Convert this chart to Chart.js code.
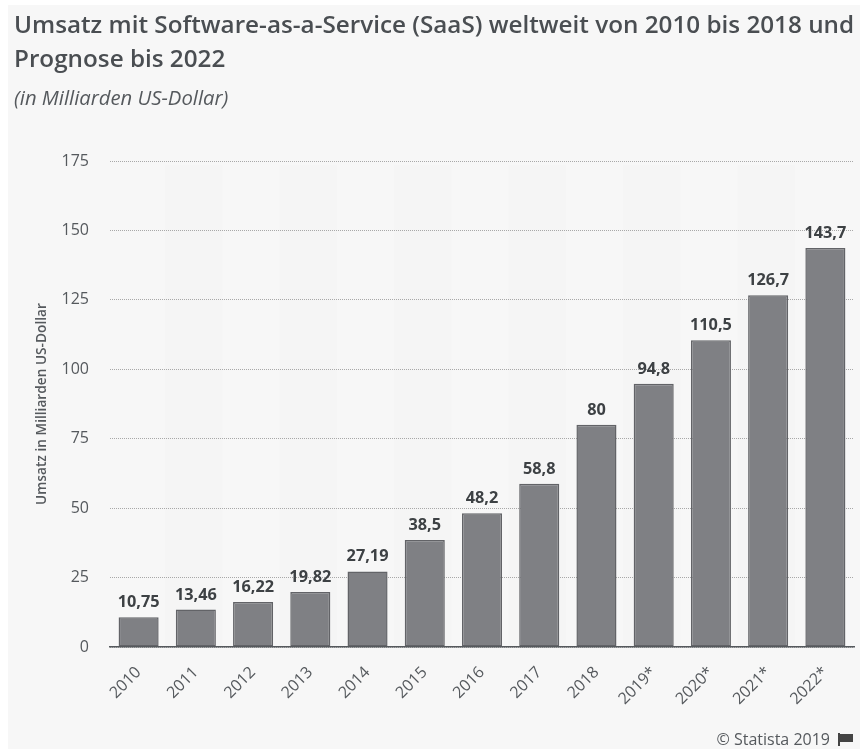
<!DOCTYPE html>
<html>
<head>
<meta charset="utf-8">
<script src="https://cdn.jsdelivr.net/npm/chart.js@4"></script>
<style>
  html, body { margin: 0; padding: 0; background: #fff; }
  body { width: 860px; height: 749px; position: relative; overflow: hidden; font-family: "Open Sans", sans-serif; }
  #panel { position: absolute; left: 8px; top: 5px; width: 852px; height: 744px; background: #f7f7f7; }
  #title { position: absolute; left: 14px; top: 7px; width: 846px; margin: 0; font-size: 24.25px; line-height: 34px; font-weight: 600; color: #4a4e52; white-space: nowrap; }
  #subtitle { position: absolute; left: 14px; top: 84px; font-size: 20.3px; line-height: 27px; font-style: italic; color: #55595d; }
  #source { position: absolute; right: 30px; top: 728px; font-size: 16px; line-height: 22px; color: #55595d; }
  #flag { position: absolute; left: 838px; top: 733px; width: 2px; height: 13px; background: #444; }
  #flag2 { position: absolute; left: 840px; top: 734px; width: 13px; height: 8px; background: #444; }
  #wrap { position: absolute; left: 0; top: 0; width: 860px; height: 749px; }
</style>
</head>
<body>
<div id="panel"></div>
<div id="wrap"><canvas id="umsatzChart" width="860" height="749"></canvas></div>
<h1 id="title">Umsatz mit Software-as-a-Service (SaaS) weltweit von 2010 bis 2018 und<br>Prognose bis 2022</h1>
<div id="subtitle">(in Milliarden US-Dollar)</div>
<div id="source">© Statista 2019</div>
<div id="flag"></div><div id="flag2"></div>
<script>
const years = ["2010", "2011", "2012", "2013", "2014", "2015", "2016", "2017", "2018", "2019*", "2020*", "2021*", "2022*"];
const umsatz = [10.75, 13.46, 16.22, 19.82, 27.19, 38.5, 48.2, 58.8, 80, 94.8, 110.5, 126.7, 143.7];

// abwechselnde Streifen hinter Gitter und Balken
const bandsPlugin = {
  id: "bands",
  beforeDraw(chart) {
    const { ctx, chartArea, scales } = chart;
    const step = chartArea.width / years.length;
    ctx.save();
    ctx.fillStyle = "#f5f5f5";
    years.forEach((y, i) => {
      if (i % 2 === 1) {
        ctx.fillRect(scales.x.getPixelForTick(i) - step / 2 - 2, chartArea.top + 4, step, chartArea.height - 4);
      }
    });
    ctx.restore();
  },
};

// Werte ueber den Balken, mit Komma
const valueLabels = {
  id: "valueLabels",
  afterDatasetsDraw(chart) {
    const { ctx } = chart;
    ctx.save();
    ctx.font = "700 16.3px 'Open Sans'";
    ctx.fillStyle = "#3d4144";
    ctx.textAlign = "center";
    ctx.textBaseline = "alphabetic";
    chart.getDatasetMeta(0).data.forEach((bar, i) => {
      ctx.fillText(String(umsatz[i]).replace(".", ","), bar.x, bar.y - 10);
    });
    ctx.restore();
  },
};

new Chart(document.getElementById("umsatzChart").getContext("2d"), {
  type: "bar",
  data: {
    labels: years,
    datasets: [
      {
        label: "Umsatz",
        data: umsatz,
        backgroundColor: "#7f8084",
        borderColor: "#626367",
        borderWidth: 1.5,
        borderSkipped: false,
        barPercentage: 0.7,
        categoryPercentage: 1,
      },
    ],
  },
  options: {
    responsive: false,
    animation: false,
    devicePixelRatio: 1,
    layout: { padding: { left: 34, right: 6, top: 161, bottom: 0 } },
    plugins: {
      legend: { display: false },
      tooltip: { enabled: false },
    },
    scales: {
      y: {
        min: 0,
        max: 175,
        ticks: { stepSize: 25, padding: 21, color: "#55595d", font: { family: "Open Sans", size: 16 } },
        border: { display: false, dash: [1, 1] },
        grid: { color: "#a8a8a8", lineWidth: 1, drawTicks: false },
        title: { display: true, text: "Umsatz in Milliarden US-Dollar", color: "#55595d", font: { family: "Open Sans", size: 13.7, weight: "600" }, padding: 0 },
        afterFit(scale) { scale.width = 76; },
      },
      x: {
        ticks: { minRotation: 45, maxRotation: 45, padding: 8, color: "#55595d", font: { family: "Open Sans", size: 16 } },
        grid: { display: false },
        border: { color: "#55595d", width: 1.5, z: 1 },
        afterFit(scale) { scale.height = 102; },
      },
    },
  },
  plugins: [bandsPlugin, valueLabels],
});
</script>
</body>
</html>
